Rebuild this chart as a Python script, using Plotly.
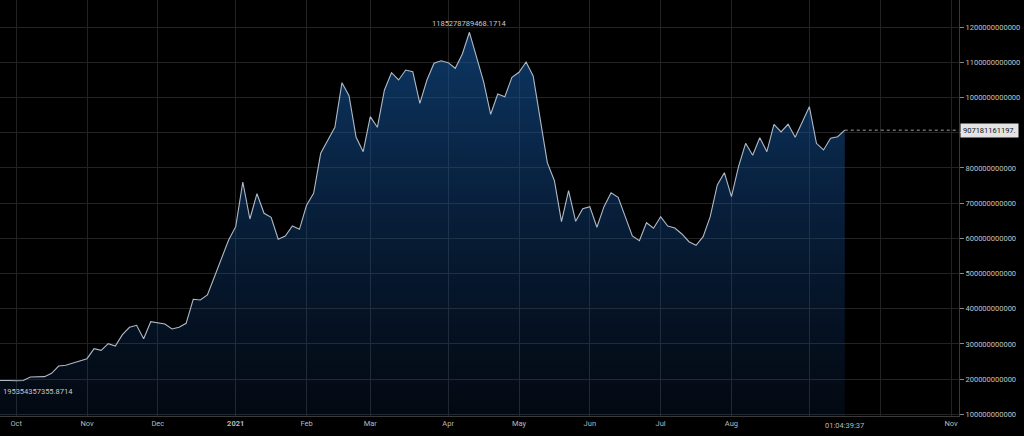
import numpy as np
import plotly.graph_objects as go

# Market cap (USD billions), one value per bar of the index-based time scale
cap_bn = [
    196.0, 196.5, 196.0, 195.354357355, 195.9, 206.0, 206.8, 207.0, 216.5, 237.2,
    239.2, 244.9, 252.3, 258.0, 286.4, 281.8, 300.6, 294.0, 326.1, 347.2,
    352.8, 314.8, 363.1, 360.2, 356.5, 342.3, 347.2, 358.5, 426.7, 424.7,
    438.9, 490.9, 543.2, 595.2, 633.0, 760.0, 654.8, 726.7, 671.0, 659.7,
    597.2, 606.5, 635.0, 625.6, 693.8, 727.8, 841.5, 877.3, 915.3, 1042.0,
    1005.1, 886.9, 846.0, 945.5, 915.3, 1021.3, 1070.5, 1049.7, 1078.1, 1073.3,
    983.5, 1049.7, 1097.2, 1104.5, 1098.9, 1083.0, 1123.6, 1185.278789468, 1115.9, 1044.9,
    952.3, 1010.0, 1002.3, 1057.4, 1071.6, 1100.9, 1061.1, 936.1, 814.8, 763.6,
    647.2, 735.2, 648.3, 684.1, 689.8, 631.3, 689.8, 729.5, 716.5, 661.4,
    606.5, 593.2, 644.3, 628.4, 661.4, 635.0, 629.3, 612.2, 590.3, 580.1,
    604.5, 661.4, 751.4, 786.4, 718.2, 803.4, 869.9, 835.8, 885.8, 846.0,
    923.9, 902.0, 923.9, 886.9, 929.5, 973.9, 869.9, 850.9, 884.1, 888.6,
    907.181161197,
]

# Month boundaries on the bar index scale
month_idx = [3, 13, 23, 34, 44, 53, 64, 74, 84, 94, 104, 115, 125, 135]
month_labels = ["Oct", "Nov", "Dec", "<b>2021</b>", "Feb", "Mar", "Apr", "May",
                "Jun", "Jul", "Aug", "", "", "Nov"]

# Price-scale ticks
y_ticks_bn = [100, 200, 300, 400, 500, 600, 700, 800, 900, 1000, 1100, 1200]
y_tick_text = ["100000000000", "200000000000", "300000000000", "400000000000",
               "500000000000", "600000000000", "700000000000", "800000000000",
               "", "1000000000000", "1100000000000", "1200000000000"]

max_label = "1185278789468.1714"
min_label = "195354357355.8714"
last_label = "907181161197."
countdown_label = "01:04:39:37"

x_range = [0.716, 136.13]
y_range_bn = [95.17, 1276.97]

y = np.array(cap_bn) * 1e9
x = np.arange(len(y))
i_max = int(np.argmax(y))
i_min = int(np.argmin(y))
i_last = len(y) - 1

FONT = "Roboto"
LABEL_COLOR = "#b9b9b9"
GRID = "#232323"

fig = go.Figure()
fig.add_trace(go.Scatter(
    x=x, y=y, mode="lines",
    line=dict(color="#aebac6", width=1.1),
    fill="tozeroy",
    fillgradient=dict(
        type="vertical",
        start=y_range_bn[0] * 1e9,
        stop=float(y.max()),
        colorscale=[[0, "rgba(20,70,140,0.12)"], [1, "rgba(20,88,160,0.62)"]],
    ),
    hoverinfo="skip",
    showlegend=False,
))

fig.add_shape(type="line", xref="x", yref="y",
              x0=i_last, x1=x_range[1], y0=y[-1], y1=y[-1],
              line=dict(color="#a0a0a0", width=1, dash="dot"))

fig.add_annotation(x=i_max, y=y[i_max], text=max_label, showarrow=False,
                   yanchor="middle", yshift=9,
                   font=dict(family=FONT, size=7.5, color="#c8c8c8"))
fig.add_annotation(xref="paper", x=0, xanchor="left", xshift=1,
                   y=y[i_min], yanchor="middle", yshift=-10.5,
                   text=min_label, showarrow=False,
                   font=dict(family=FONT, size=7.5, color="#c8c8c8"))
fig.add_annotation(xref="paper", x=1, xanchor="left", xshift=1,
                   y=y[-1], yanchor="middle", text=last_label, showarrow=False,
                   bgcolor="#e4e4e4", borderpad=2,
                   font=dict(family=FONT, size=7.5, color="#111111"))
fig.add_annotation(x=i_last, yref="paper", y=0, yanchor="top", yshift=-3,
                   text=countdown_label, showarrow=False,
                   font=dict(family=FONT, size=7.5, color=LABEL_COLOR))

fig.update_layout(
    width=1024, height=436,
    margin=dict(l=0, r=65, t=0, b=20),
    paper_bgcolor="#000000", plot_bgcolor="#000000",
    showlegend=False,
    xaxis=dict(
        range=x_range, tickmode="array", tickvals=month_idx, ticktext=month_labels,
        showgrid=True, gridcolor=GRID, gridwidth=1, zeroline=False,
        showline=True, linecolor="#3a3a3a", linewidth=1, ticks="",
        tickfont=dict(family=FONT, size=7.5, color=LABEL_COLOR),
    ),
    yaxis=dict(
        side="right", range=[v * 1e9 for v in y_range_bn],
        tickmode="array", tickvals=[v * 1e9 for v in y_ticks_bn], ticktext=y_tick_text,
        showgrid=True, gridcolor=GRID, gridwidth=1, zeroline=False,
        showline=True, linecolor="#3a3a3a", linewidth=1,
        ticks="outside", ticklen=4, tickcolor="#8a8a8a",
        tickfont=dict(family=FONT, size=7.5, color="#c4c4c4"),
    ),
)

fig.write_html("out.html")
